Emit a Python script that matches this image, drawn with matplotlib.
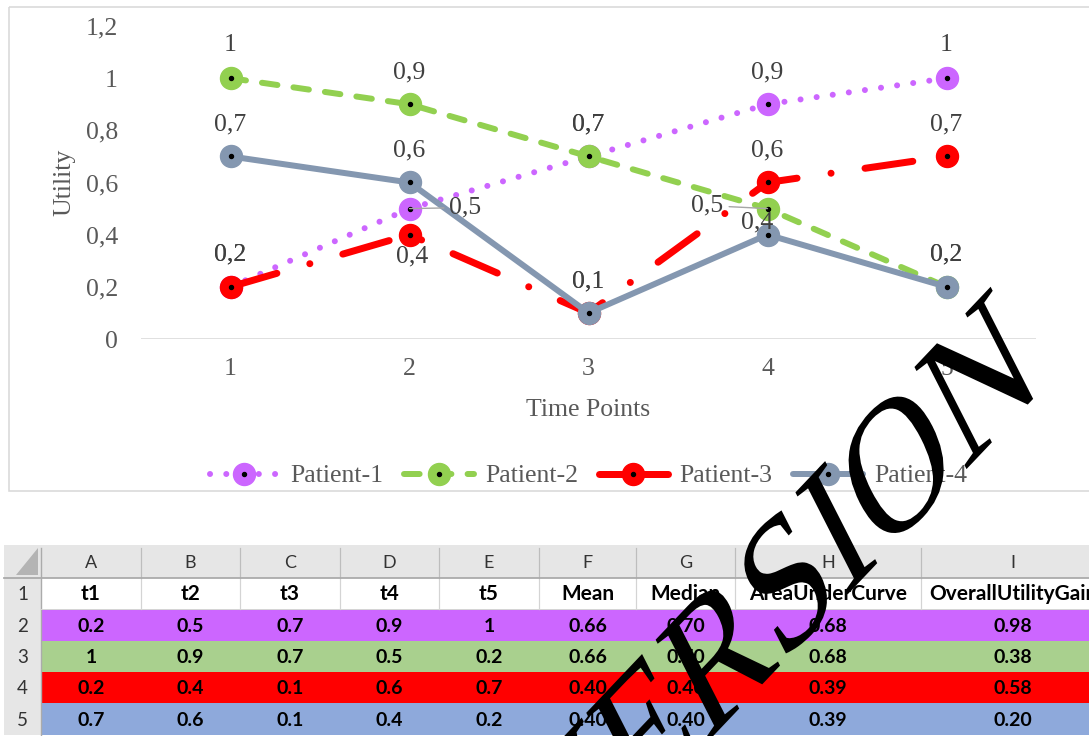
import numpy as np
import matplotlib.pyplot as plt
from matplotlib.patches import Rectangle, Polygon, PathPatch
from matplotlib.lines import Line2D
from matplotlib.textpath import TextPath
from matplotlib.font_manager import FontProperties
from matplotlib.transforms import Affine2D

# utility scores per patient over the five time points
time_points = [1, 2, 3, 4, 5]
patient1 = [0.2, 0.5, 0.7, 0.9, 1.0]
patient2 = [1.0, 0.9, 0.7, 0.5, 0.2]
patient3 = [0.2, 0.4, 0.1, 0.6, 0.7]
patient4 = [0.7, 0.6, 0.1, 0.4, 0.2]
names = ['Patient-1', 'Patient-2', 'Patient-3', 'Patient-4']

# summary columns of the sheet
mean_vals = [0.66, 0.66, 0.40, 0.40]
median_vals = [0.70, 0.70, 0.40, 0.40]
auc_vals = [0.68, 0.68, 0.39, 0.39]
gain_vals = [0.98, 0.38, 0.58, 0.20]
col_letters = ['A', 'B', 'C', 'D', 'E', 'F', 'G', 'H', 'I']
col_headers = ['t1', 't2', 't3', 't4', 't5', 'Mean', 'Median',
               'AreaUnderCurve', 'OverallUtilityGain']

W, H = 1089, 736
PT = 72 / 100  # points per pixel
serif = 'Liberation Serif'
axis_grey = '#595959'
label_grey = '#404040'

series = [patient1, patient2, patient3, patient4]
colors = ['#CC66FF', '#92D050', '#FF0000', '#8497B0']
lws = [6 * PT, 6 * PT, 7 * PT, 6 * PT]
styles = [(0, (0.01, 2.7)), (0, (2.6, 2.7)), (0, (6.9, 4.9, 0.01, 4.9)), '-']
legend_styles = [(0, (0.01, 2.7)), (0, (2.6, 2.7)), '-', '-']

# data label offsets in pixels (most sit straight above the point)
label_off = [
    [(0, 32), (56, 1), (0, 32), (0, 32), (0, 33)],
    [(0, 33), (0, 32), (0, 32), (-60, 3), (0, 32)],
    [(0, 32), (3, -22), (0, 31), (0, 32), (0, 32)],
    [(0, 32), (0, 32), (0, 31), (-10, 12), (0, 32)],
]
leaders = {(0, 1), (1, 3)}

fig = plt.figure(figsize=(W / 100, H / 100), dpi=100)
ax = fig.add_axes([141 / W, 397 / H, 895 / W, 313 / H])
ax.set_xlim(0.5, 5.5)
ax.set_ylim(0, 1.2)
for s in ax.spines.values():
    s.set_visible(False)
ax.axhline(0, color='#D9D9D9', lw=1.6 * PT, zorder=1)

handles = []
for i, vals in enumerate(series):
    ax.plot(time_points, vals, color=colors[i], lw=lws[i], ls=styles[i],
            dash_capstyle='round', solid_capstyle='round',
            marker='o', ms=22 * PT, mfc=colors[i], mec=colors[i],
            clip_on=False, zorder=3 + i)
    ax.plot(time_points, vals, ls='none', marker='o', ms=4 * PT,
            color='black', clip_on=False, zorder=3.5 + i)
    h_line = Line2D([], [], color=colors[i], lw=lws[i], ls=legend_styles[i],
                    dash_capstyle='round', solid_capstyle='round',
                    marker='o', ms=22 * PT, mfc=colors[i], mec=colors[i])
    h_dot = Line2D([], [], ls='none', marker='o', ms=4 * PT, color='black')
    handles.append((h_line, h_dot))
    for j, v in enumerate(vals):
        txt = f'{v:g}'.replace('.', ',')
        dx, dy = label_off[i][j]
        arrow = None
        if (i, j) in leaders:
            arrow = dict(arrowstyle='-', color='#A6A6A6', lw=1.0,
                         shrinkA=2, shrinkB=0)
        ax.annotate(txt, (time_points[j], v), xytext=(dx, dy),
                    textcoords='offset pixels', ha='center', va='center',
                    fontsize=18.5, family=serif, color=label_grey,
                    arrowprops=arrow, zorder=20, annotation_clip=False)

yt = np.round(np.arange(0, 1.21, 0.2), 1)
ax.set_yticks(yt)
ax.set_yticklabels([f'{t:g}'.replace('.', ',') for t in yt])
ax.set_xticks(time_points)
ax.set_xticklabels([str(t) for t in time_points])
ax.tick_params(axis='y', length=0, pad=16.6, labelsize=18.5, labelcolor=axis_grey)
ax.tick_params(axis='x', length=0, pad=13.7, labelsize=18.5, labelcolor=axis_grey)
for lab in ax.get_xticklabels() + ax.get_yticklabels():
    lab.set_family(serif)

ax.text((64 - 141) / 895, 0.5, 'Utility', transform=ax.transAxes, rotation=90,
        ha='center', va='center', fontsize=18.5, family=serif, color=axis_grey)
ax.text(0.5, (326 - 397) / 313, 'Time Points', transform=ax.transAxes,
        ha='center', va='center', fontsize=18.5, family=serif, color=axis_grey)

ax.legend(handles, names, loc='center', bbox_to_anchor=(0.5, (260 - 397) / 313),
          ncol=4, frameon=False, prop=FontProperties(family=serif, size=18.5),
          labelcolor=axis_grey, handlelength=2.7, handletextpad=0.45,
          columnspacing=0.8, numpoints=1)

# overlay in pixel coordinates: chart frame, spreadsheet and stamp
ov = fig.add_axes([0, 0, 1, 1], zorder=5)
ov.set_xlim(0, W)
ov.set_ylim(H, 0)
ov.axis('off')
ov.patch.set_visible(False)

ov.add_patch(Rectangle((8.5, 6.5), 1100, 484.5, fill=False, ec='#D9D9D9', lw=1.6 * PT))

xe = [4, 41, 141, 240, 340, 439, 539, 636, 735, 921, 1105]
ye = [545, 578, 609, 641, 672, 703, 735]
row_fill = ['#CC66FF', '#A9D08E', '#FF0000', '#8EA9DB']
sheet_font = 'Lato'

ov.add_patch(Rectangle((xe[0], ye[0]), xe[-1] - xe[0], ye[1] - ye[0], color='#E6E6E6', lw=0))
ov.add_patch(Rectangle((xe[0], ye[1]), xe[1] - xe[0], ye[-1] - ye[1], color='#E6E6E6', lw=0))
ov.add_patch(Polygon([(38, 548), (38, 575), (16, 575)], closed=True, color='#B4B4B4', lw=0))
for r in range(4):
    ov.add_patch(Rectangle((xe[1], ye[r + 2]), xe[-1] - xe[1], ye[r + 3] - ye[r + 2],
                           color=row_fill[r], lw=0))

# grid lines
for x in xe[2:-1]:
    ov.plot([x, x], [ye[1], ye[2]], color='#D4D4D4', lw=1.2 * PT)
    ov.plot([x, x], [ye[0] + 3, ye[1]], color='#BDBDBD', lw=1.2 * PT)
ov.plot([xe[1], xe[1]], [ye[0] + 3, ye[-1]], color='#ABABAB', lw=1.4 * PT)
ov.plot([xe[0], xe[-1]], [ye[1], ye[1]], color='#ABABAB', lw=1.8 * PT)
ov.plot([xe[1], xe[-1]], [ye[2], ye[2]], color='#D4D4D4', lw=1.0 * PT)

for c, letter in enumerate(col_letters):
    cx = (xe[c + 1] + xe[c + 2]) / 2
    ov.text(cx, (ye[0] + ye[1]) / 2 + 1, letter, ha='center', va='center',
            fontsize=13, family=sheet_font, color='#333333')
    ov.text(cx, (ye[1] + ye[2]) / 2 + 1, col_headers[c], ha='center', va='center',
            fontsize=15, family=sheet_font, weight='bold', color='black')
for r in range(5):
    ov.text((xe[0] + xe[1]) / 2, (ye[r + 1] + ye[r + 2]) / 2 + 1, str(r + 1),
            ha='center', va='center', fontsize=13.5, family=sheet_font, color='#333333')

for r in range(4):
    cells = [f'{v:g}' for v in series[r]] + [f'{mean_vals[r]:.2f}', f'{median_vals[r]:.2f}',
                                             f'{auc_vals[r]:.2f}', f'{gain_vals[r]:.2f}']
    for c, txt in enumerate(cells):
        cx = (xe[c + 1] + xe[c + 2]) / 2
        ov.text(cx, (ye[r + 2] + ye[r + 3]) / 2 + 1, txt, ha='center', va='center',
                fontsize=14, family=sheet_font, weight='bold', color='black')

# diagonal stamp text, rotated and sheared
tp = TextPath((0, 0), 'VERSION', size=1, prop=FontProperties(family=serif))
stamp = Affine2D.from_values(113.6, -119.7, -79.5, -155.9, 553.0, 904.8)
ov.add_patch(PathPatch(tp, transform=stamp + ov.transData, fc='black', ec='none', zorder=30))

fig.savefig('out.png', dpi=100)
